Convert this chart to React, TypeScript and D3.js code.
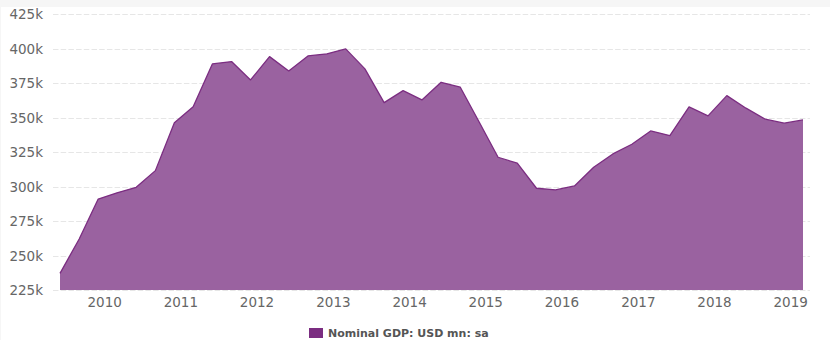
import React from "react";
import * as d3 from "d3";

const dates: string[] = [
  "2009-06-01", "2009-09-01", "2009-12-01",
  "2010-03-01", "2010-06-01", "2010-09-01", "2010-12-01",
  "2011-03-01", "2011-06-01", "2011-09-01", "2011-12-01",
  "2012-03-01", "2012-06-01", "2012-09-01", "2012-12-01",
  "2013-03-01", "2013-06-01", "2013-09-01", "2013-12-01",
  "2014-03-01", "2014-06-01", "2014-09-01", "2014-12-01",
  "2015-03-01", "2015-06-01", "2015-09-01", "2015-12-01",
  "2016-03-01", "2016-06-01", "2016-09-01", "2016-12-01",
  "2017-03-01", "2017-06-01", "2017-09-01", "2017-12-01",
  "2018-03-01", "2018-06-01", "2018-09-01", "2018-12-01",
  "2019-03-01",
];

const gdp: number[] = [
  237.1, 262.0, 291.0,
  295.5, 299.5, 311.6, 346.4,
  358.0, 389.0, 390.7, 377.4,
  394.3, 383.9, 394.8, 396.3,
  399.9, 385.4, 360.9, 369.6,
  362.9, 375.7, 372.1, 346.7,
  321.3, 317.0, 298.8, 297.6,
  300.5, 314.0, 323.7, 330.7,
  340.4, 337.0, 357.8, 351.3,
  366.0, 356.9, 348.9, 346.0,
  348.4,
];

const yTicks: number[] = [225, 250, 275, 300, 325, 350, 375, 400, 425];
const xTickYears: number[] = [2010, 2011, 2012, 2013, 2014, 2015, 2016, 2017, 2018, 2019];
const seriesName = "Nominal GDP: USD mn: sa";

const W = 830;
const H = 340;
const FONT = "'DejaVu Sans', Verdana, sans-serif";

export default function App() {
  const parse = d3.timeParse("%Y-%m-%d");
  const data = dates.map((d, i) => ({ date: parse(d) as Date, v: gdp[i] }));

  const x = d3
    .scaleTime()
    .domain(d3.extent(data, (d) => d.date) as [Date, Date])
    .range([60, 803]);
  const y = d3.scaleLinear().domain([225, 425]).range([290, 14.3]);

  const area = d3
    .area<{ date: Date; v: number }>()
    .x((d) => x(d.date))
    .y0(y(225))
    .y1((d) => y(d.v));
  const line = d3
    .line<{ date: Date; v: number }>()
    .x((d) => x(d.date))
    .y((d) => y(d.v));

  return (
    <div style={{ position: "absolute", left: 0, top: 0 }}>
      <svg width={W} height={H} style={{ display: "block" }}>
        <rect x={0} y={0} width={W} height={H} fill="#f6f6f6" />
        <rect x={1} y={7} width={W - 1} height={H - 7} fill="#ffffff" />
        {yTicks.map((t) => (
          <g key={t}>
            <line
              x1={53}
              x2={810}
              y1={Math.round(y(t)) + 0.5}
              y2={Math.round(y(t)) + 0.5}
              stroke="#e6e6e6"
              strokeWidth={1}
              strokeDasharray="5.5,2.2"
            />
            <text
              x={43}
              y={y(t) + 5}
              textAnchor="end"
              fontFamily={FONT}
              fontSize={13.5}
              fill="#666666"
            >
              {t}k
            </text>
          </g>
        ))}
        <path d={area(data) || ""} fill="#9a62a0" />
        <path d={line(data) || ""} fill="none" stroke="#7b2d81" strokeWidth={1.3} strokeLinejoin="round" />
        {xTickYears.map((yr) => (
          <text
            key={yr}
            x={x(new Date(yr, 0, 1))}
            y={307}
            textAnchor="middle"
            fontFamily={FONT}
            fontSize={13.5}
            fill="#666666"
          >
            {yr}
          </text>
        ))}
        <g>
          <rect x={309} y={328} width={14} height={10} fill="#7b2d81" />
          <text x={328} y={337} fontFamily={FONT} fontSize={11} fontWeight="bold" fill="#555555">
            {seriesName}
          </text>
        </g>
      </svg>
    </div>
  );
}
